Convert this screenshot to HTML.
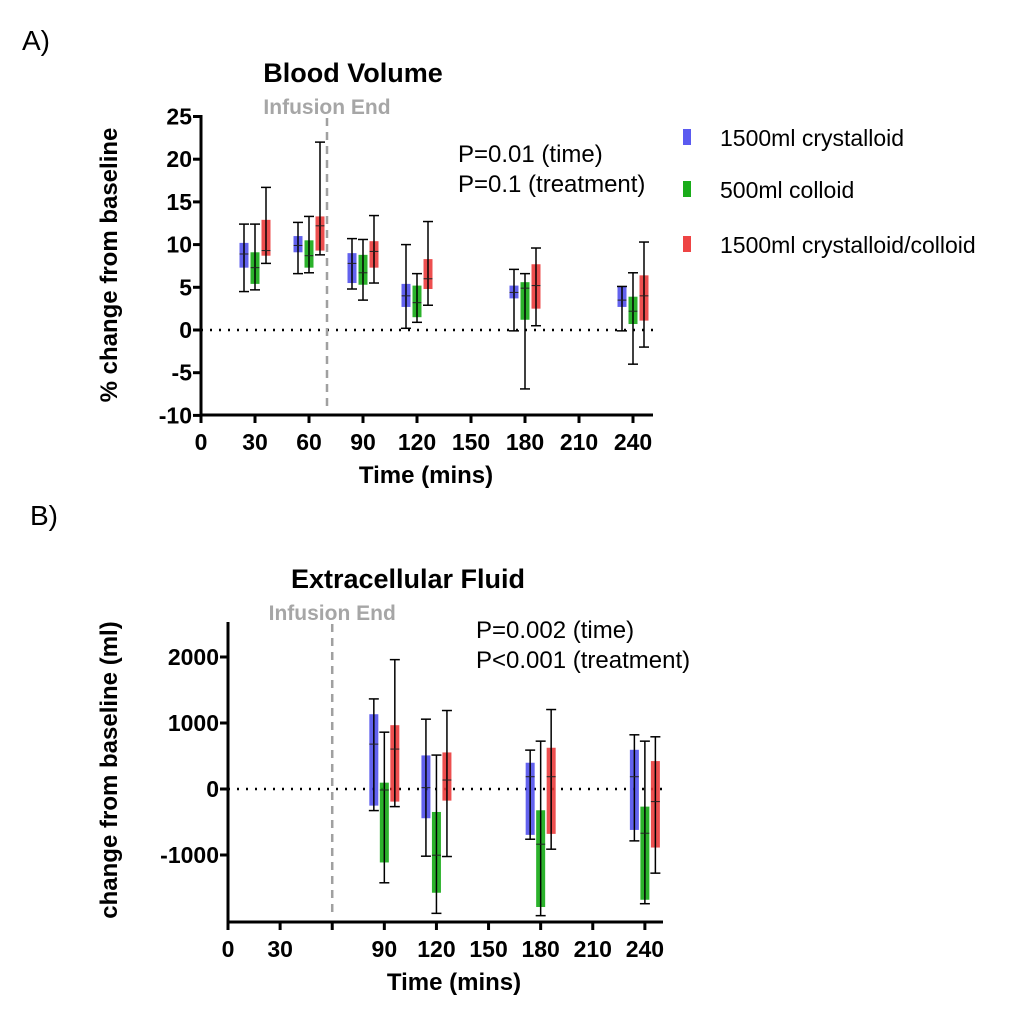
<!DOCTYPE html>
<html><head><meta charset="utf-8"><style>
html,body{margin:0;padding:0;background:#fff;}
svg{display:block;font-family:"Liberation Sans",Arial,sans-serif;}
</style></head><body>
<svg id="s" width="1013" height="1016" viewBox="0 0 1013 1016" xmlns="http://www.w3.org/2000/svg">
<text x="22" y="50" font-size="28">A)</text>
<text x="30" y="525" font-size="28">B)</text>
<text x="353" y="82" font-size="27" font-weight="bold" text-anchor="middle">Blood Volume</text>
<text x="408" y="588" font-size="27" font-weight="bold" text-anchor="middle">Extracellular Fluid</text>
<g>
<rect x="683" y="129" width="8" height="16" fill="#5a5af0"/>
<text x="720" y="146" font-size="23">1500ml crystalloid</text>
<rect x="683" y="181" width="8" height="16" fill="#1aac1a"/>
<text x="720" y="198" font-size="23">500ml colloid</text>
<rect x="683" y="236" width="8" height="16" fill="#ee4444"/>
<text x="720" y="253" font-size="23">1500ml crystalloid/colloid</text>
</g>
</svg>
<script>
const times=[30,60,90,120,180,240];
// panel A: [whiskerHigh, boxHigh, median, boxLow, whiskerLow]
const aBlue=[[12.4,10.2,8.9,7.3,4.5],[12.6,11.0,9.9,9.1,6.6],[10.7,9.0,7.8,5.5,4.8],[10.0,5.4,4.0,2.7,0.2],[7.1,5.2,4.4,3.7,-0.1],[5.1,5.1,3.5,2.7,-0.1]];
const aGreen=[[12.4,9.1,7.3,5.4,4.7],[13.3,10.5,8.7,7.3,6.7],[10.6,8.8,6.7,5.3,3.5],[6.6,5.2,3.2,1.5,0.9],[6.6,5.6,4.9,1.2,-6.9],[6.7,3.9,2.2,0.7,-4.0]];
const aRed=[[16.7,12.9,9.3,8.7,7.8],[22.0,13.3,12.2,9.3,8.8],[13.4,10.4,9.2,7.3,5.5],[12.7,8.3,6.0,4.8,2.9],[9.6,7.7,5.2,2.5,0.5],[10.3,6.4,4.0,1.1,-2.0]];
const aYTicks=[25,20,15,10,5,0,-5,-10];
const aXTicks=[0,30,60,90,120,150,180,210,240];
const bTimes=[90,120,180,240];
const bBlue=[[1365,1133,680,-252,-327],[1058,509,20,-443,-1018],[589,398,186,-695,-761],[821,594,186,-620,-786]];
const bGreen=[[861,96,-15,-1113,-1421],[514,-348,-1003,-1572,-1884],[725,-322,-836,-1788,-1919],[725,-267,-670,-1678,-1738]];
const bRed=[[1960,967,605,-191,-267],[1189,554,136,-176,-1023],[1204,625,186,-680,-912],[791,423,-191,-887,-1275]];
const bYTicks=[2000,1000,0,-1000];
const bXTicks=[0,30,60,90,120,150,180,210,240];
const bXLabels=["0","30","","90","120","150","180","210","240"];

const NS="http://www.w3.org/2000/svg";
const svg=document.getElementById('s');
function mk(tag,attrs,parent){const e=document.createElementNS(NS,tag);for(const k in attrs)e.setAttribute(k,attrs[k]);(parent||svg).appendChild(e);return e;}
const colors=["rgba(70,70,235,0.85)","rgba(20,170,20,0.9)","rgba(235,55,55,0.88)"];
const names=["crystalloid","colloid","mixed"];

function panel(cfg){
  const g=mk('g',{});
  
  
  const X=t=>cfg.x0+t*cfg.xs;
  const Y=v=>cfg.y0-v*cfg.ys;
  const zl=mk('line',{x1:cfg.x0,x2:cfg.xEnd,y1:Y(0),y2:Y(0),stroke:'#000','stroke-width':2.5,'stroke-dasharray':'2 7'},g);
  
  
  const il=mk('line',{x1:X(cfg.inf),x2:X(cfg.inf),y1:cfg.infTop,y2:cfg.yBottom-6,stroke:'#a0a0a0','stroke-width':2.5,'stroke-dasharray':'8 6'},g);
  
  
  const it=mk('text',{x:X(cfg.inf),y:cfg.infTop-4,'font-size':21,'font-weight':'bold',fill:'#a6a6a6','text-anchor':'middle'},g);
  it.textContent='Infusion End';
  
  
  cfg.series.forEach((ser,si)=>{
    ser.forEach((d,i)=>{
      const cx=X(cfg.times[i])+(si-1)*cfg.off;
      const bg=mk('g',{},g);
      
      
      mk('rect',{x:cx-cfg.bw/2,y:Y(d[1]),width:cfg.bw,height:Y(d[3])-Y(d[1]),fill:colors[si]},bg);
      mk('line',{x1:cx,x2:cx,y1:Y(d[0]),y2:Y(d[4]),stroke:'#000','stroke-width':1.5},bg);
      mk('line',{x1:cx-5,x2:cx+5,y1:Y(d[0]),y2:Y(d[0]),stroke:'#000','stroke-width':1.5},bg);
      mk('line',{x1:cx-5,x2:cx+5,y1:Y(d[4]),y2:Y(d[4]),stroke:'#000','stroke-width':1.5},bg);
      mk('line',{x1:cx-cfg.bw/2,x2:cx+cfg.bw/2,y1:Y(d[2]),y2:Y(d[2]),stroke:'#222','stroke-width':1},bg);
    });
  });
  const ya=mk('line',{x1:cfg.x0,x2:cfg.x0,y1:cfg.yTop,y2:cfg.yBottom+1.5,stroke:'#000','stroke-width':3},g);
  
  
  const xa=mk('line',{x1:cfg.x0-1.5,x2:cfg.xEnd,y1:cfg.yBottom,y2:cfg.yBottom,stroke:'#000','stroke-width':3},g);
  
  
  cfg.yTicks.forEach(v=>{
    mk('line',{x1:cfg.x0-8,x2:cfg.x0,y1:Y(v),y2:Y(v),stroke:'#000','stroke-width':3},g);
    const t=mk('text',{x:cfg.x0-9,y:Y(v)+8,'font-size':23,'font-weight':'bold','text-anchor':'end'},g);
    t.textContent=String(v);
    
    
  });
  cfg.xTicks.forEach((v,i)=>{
    mk('line',{x1:X(v),x2:X(v),y1:cfg.yBottom,y2:cfg.yBottom+8,stroke:'#000','stroke-width':3},g);
    const t=mk('text',{x:X(v),y:cfg.yBottom+35,'font-size':23,'font-weight':'bold','text-anchor':'middle'},g);
    t.textContent=cfg.xLabels[i];
    
    
  });
  const xt=mk('text',{x:cfg.xTitleX,y:cfg.yBottom+68,'font-size':24,'font-weight':'bold','text-anchor':'middle'},g);
  xt.textContent='Time (mins)';
  
  
  const yt=mk('text',{x:0,y:0,'font-size':24,'font-weight':'bold','text-anchor':'middle',transform:`translate(${cfg.yTitleX},${cfg.yTitleY}) rotate(-90)`},g);
  yt.textContent=cfg.yTitle;
  
  
  cfg.pLines.forEach((s,i)=>{
    const t=mk('text',{x:cfg.pX,y:cfg.pY+i*30,'font-size':24},g);
    t.textContent=s;
    
    
  });
}
panel({name:'panel-a-chart',x0:201,xs:1.8,xEnd:653,y0:330,ys:8.54,yTop:115,yBottom:415,inf:70,infTop:118,
  times:times,series:[aBlue,aGreen,aRed],off:11,bw:9,yTicks:aYTicks,xTicks:aXTicks,xLabels:aXTicks.map(String),
  xTitleX:426,yTitle:'% change from baseline',yTitleX:117,yTitleY:265,pLines:['P=0.01 (time)','P=0.1 (treatment)'],pX:458,pY:162});
panel({name:'panel-b-chart',x0:228,xs:1.737,xEnd:663,y0:789,ys:0.066,yTop:622,yBottom:922,inf:60,infTop:624,
  times:bTimes,series:[bBlue,bGreen,bRed],off:10.5,bw:9,yTicks:bYTicks,xTicks:bXTicks,xLabels:bXLabels,
  xTitleX:454,yTitle:'change from baseline (ml)',yTitleX:117,yTitleY:770,pLines:['P=0.002 (time)','P<0.001 (treatment)'],pX:476,pY:638});
</script>
</body></html>
